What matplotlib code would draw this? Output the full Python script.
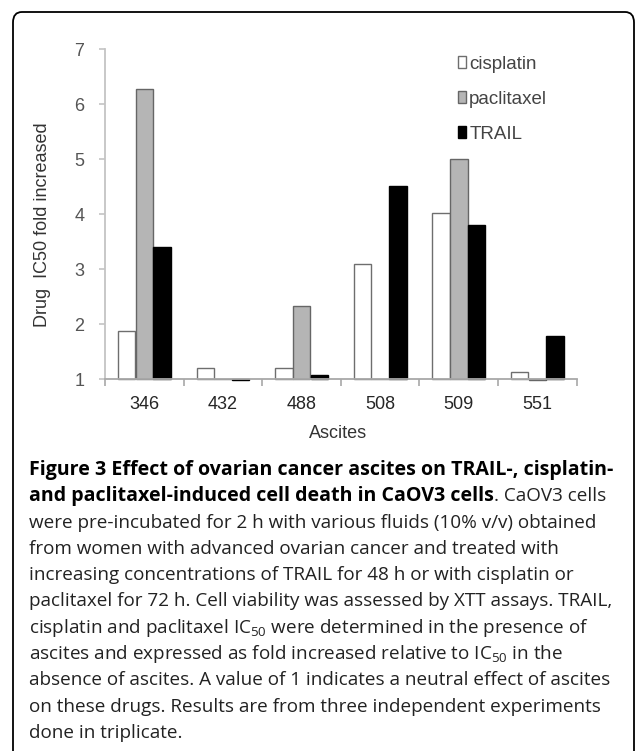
"""
Figure 3 - ovarian cancer ascites vs TRAIL / cisplatin / paclitaxel IC50
"""
import matplotlib
matplotlib.use("Agg")
import matplotlib.pyplot as plt
import matplotlib.patches as mpatches
import numpy as np

plt.rcParams["font.family"] = ["Liberation Sans", "DejaVu Sans"]
plt.rcParams["mathtext.fontset"] = "custom"
plt.rcParams["mathtext.rm"] = "Open Sans"

# data
ascites = ["346", "432", "488", "508", "509", "551"]
cisplatin = [1.88, 1.20, 1.20, 3.09, 4.02, 1.12]
paclitaxel = [6.27, 1.00, 2.33, 1.00, 5.00, 0.99]
trail = [3.40, 0.98, 1.07, 4.51, 3.80, 1.79]
yticks = [1, 2, 3, 4, 5, 6, 7]

W, H = 635, 751
fig = plt.figure(figsize=(W / 100, H / 100), dpi=100)

# rounded frame around whole figure
frame = mpatches.FancyBboxPatch((13 / W, -0.05), 621 / W, 1 - 12 / H + 0.05,
                                boxstyle="round,pad=0,rounding_size=0.014",
                                transform=fig.transFigure, facecolor="none",
                                edgecolor="black", linewidth=1.3)
fig.patches.append(frame)

ax = fig.add_axes([105 / W, 1 - 381.75 / H, 471.7 / W, (381.75 - 49.3) / H])

x = np.arange(len(ascites))
bw = 0.222
off = 0.225
base = 1.0
b1 = ax.bar(x - off, np.array(cisplatin) - base, bw, bottom=base,
            facecolor="white", edgecolor="#6e6e6e", linewidth=1.0, label="cisplatin")
b2 = ax.bar(x, np.array(paclitaxel) - base, bw, bottom=base,
            facecolor="#b5b5b5", edgecolor="#666666", linewidth=1.0, label="paclitaxel")
b3 = ax.bar(x + off, np.array(trail) - base, bw, bottom=base,
            facecolor="black", edgecolor="black", linewidth=1.0, label="TRAIL")

ax.set_xlim(-0.5, 5.5)
ax.set_ylim(0.95, 7)
for s in ["top", "right"]:
    ax.spines[s].set_visible(False)
ax.spines["left"].set_bounds(1, 7)
ax.spines["left"].set_color("#c4c4c4")
ax.spines["left"].set_linewidth(1.3)
ax.spines["bottom"].set_position(("data", 1))
ax.spines["bottom"].set_color("#a8a8a8")
ax.spines["bottom"].set_linewidth(1.3)

ax.set_yticks(yticks)
ax.set_yticklabels([str(v) for v in yticks])
ax.tick_params(axis="y", direction="out", length=4, width=1.2, color="#c4c4c4",
               pad=11, labelsize=13, labelcolor="#555555")
ax.set_xticks(x)
ax.set_xticklabels(ascites)
ax.set_xticks(np.arange(-0.5, 6, 1), minor=True)
ax.tick_params(axis="x", which="major", length=0, pad=12, labelsize=13, labelcolor="#262626")
ax.tick_params(axis="x", which="minor", direction="out", length=5, width=1.2, color="#a8a8a8")

fig.text(43 / W, 1 - 225 / H, "Drug  IC50 fold increased", rotation=90,
         ha="center", va="center", fontsize=13, color="#333333")
fig.text(338 / W, 1 - 433 / H, "Ascites", ha="center", va="center",
         fontsize=13, color="#333333")

leg = ax.legend(handles=[b1, b2, b3], loc="upper left",
                bbox_to_anchor=(458 / W, 1 - 56 / H), bbox_transform=fig.transFigure,
                frameon=False, fontsize=13.5, handlelength=0.45, handleheight=0.6,
                handletextpad=0.15, labelspacing=0.95, borderpad=0, borderaxespad=0)
for t in leg.get_texts():
    t.set_color("#444444")

# caption
cap_font = ["Open Sans", "DejaVu Sans"]
cap_size = 13.6
bold_size = 14.1
cap_x = 29 / W
lines = [
    "were pre-incubated for 2 h with various fluids (10% v/v) obtained",
    "from women with advanced ovarian cancer and treated with",
    "increasing concentrations of TRAIL for 48 h or with cisplatin or",
    "paclitaxel for 72 h. Cell viability was assessed by XTT assays. TRAIL,",
    "cisplatin and paclitaxel IC$_{50}$ were determined in the presence of",
    "ascites and expressed as fold increased relative to IC$_{50}$ in the",
    "absence of ascites. A value of 1 indicates a neutral effect of ascites",
    "on these drugs. Results are from three independent experiments",
    "done in triplicate.",
]
y0 = 470
dy = 26.3
fig.text(cap_x, 1 - y0 / H, "Figure 3 Effect of ovarian cancer ascites on TRAIL-, cisplatin-",
         family=cap_font, fontsize=bold_size, fontweight="bold", va="center", color="black")
bold2 = fig.text(cap_x, 1 - (y0 + dy) / H, "and paclitaxel-induced cell death in CaOV3 cells",
                 family=cap_font, fontsize=bold_size, fontweight="bold", va="center", color="black")
r = fig.canvas.get_renderer()
bb = bold2.get_window_extent(renderer=r)
fig.text(bb.x1 / W, 1 - (y0 + dy) / H, ". CaOV3 cells", family=cap_font,
         fontsize=cap_size, va="center", color="#222222")
for i, ln in enumerate(lines):
    fig.text(cap_x, 1 - (y0 + (i + 2) * dy) / H, ln, family=cap_font,
             fontsize=cap_size, va="center", color="#222222")

fig.savefig("out.png", dpi=100)
